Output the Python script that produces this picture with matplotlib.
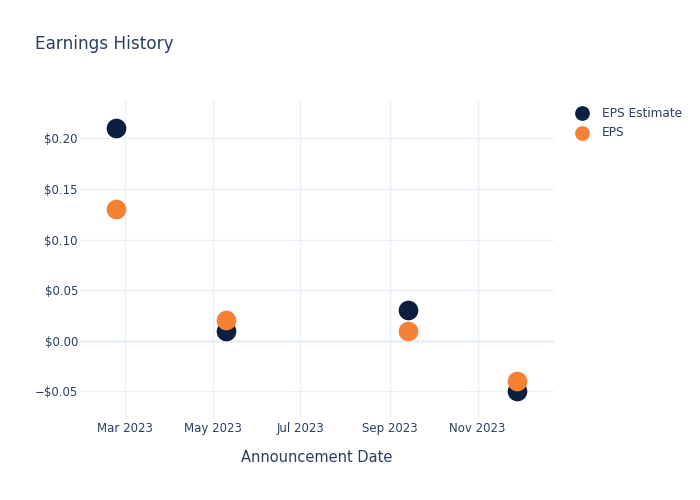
import matplotlib.pyplot as plt
import matplotlib.dates as mdates
from matplotlib.ticker import FuncFormatter, MultipleLocator
import numpy as np

dates = np.array(['2023-02-23', '2023-05-10', '2023-09-14', '2023-11-28'], dtype='datetime64[D]')
eps_estimate = [0.21, 0.01, 0.03, -0.05]
eps_actual = [0.13, 0.02, 0.01, -0.04]

navy = '#0b1f41'
orange = '#f58134'
text_col = '#2a3f5f'
grid_col = '#ebf0f8'

plt.rcParams['font.family'] = 'DejaVu Sans'

fig = plt.figure(figsize=(7, 5), dpi=100)
ax = fig.add_axes([80 / 700, 1 - 418 / 500, 474 / 700, 318 / 500])

ax.scatter(dates, eps_estimate, s=200, color=navy, zorder=3, label='EPS Estimate', linewidths=0)
ax.scatter(dates, eps_actual, s=200, color=orange, zorder=4, label='EPS', linewidths=0)

ax.set_xlim(np.datetime64('2023-01-29'), np.datetime64('2023-12-24'))
ax.set_ylim(-0.0764, 0.2379)

ax.xaxis.set_major_locator(mdates.MonthLocator(bymonth=[3, 5, 7, 9, 11]))
ax.xaxis.set_major_formatter(mdates.DateFormatter('%b %Y'))
ax.yaxis.set_major_locator(MultipleLocator(0.05))


def money(v, pos):
    s = '${:.2f}'.format(abs(v))
    if v < -1e-9:
        s = '\u2212' + s
    return s


ax.yaxis.set_major_formatter(FuncFormatter(money))

for sp in ax.spines.values():
    sp.set_visible(False)
ax.grid(True, color=grid_col, linewidth=1, zorder=0)
ax.axhline(0, color=grid_col, linewidth=2, zorder=1)
ax.tick_params(length=0, colors=text_col, labelsize=8.5)
ax.tick_params(axis='y', pad=1.5)
ax.tick_params(axis='x', pad=3)

ax.set_xlabel('Announcement Date', color=text_col, fontsize=10.5, labelpad=10.5)
fig.text(35 / 700, 1 - 44 / 500, 'Earnings History', color=text_col, fontsize=12.2, va='center')

leg = ax.legend(loc='upper left', bbox_to_anchor=(1.02, 1.0), frameon=False,
                fontsize=8.7, labelcolor=text_col, handletextpad=0.6,
                labelspacing=0.5, borderaxespad=0.15, markerscale=0.75)

fig.savefig('out.png', dpi=100)
